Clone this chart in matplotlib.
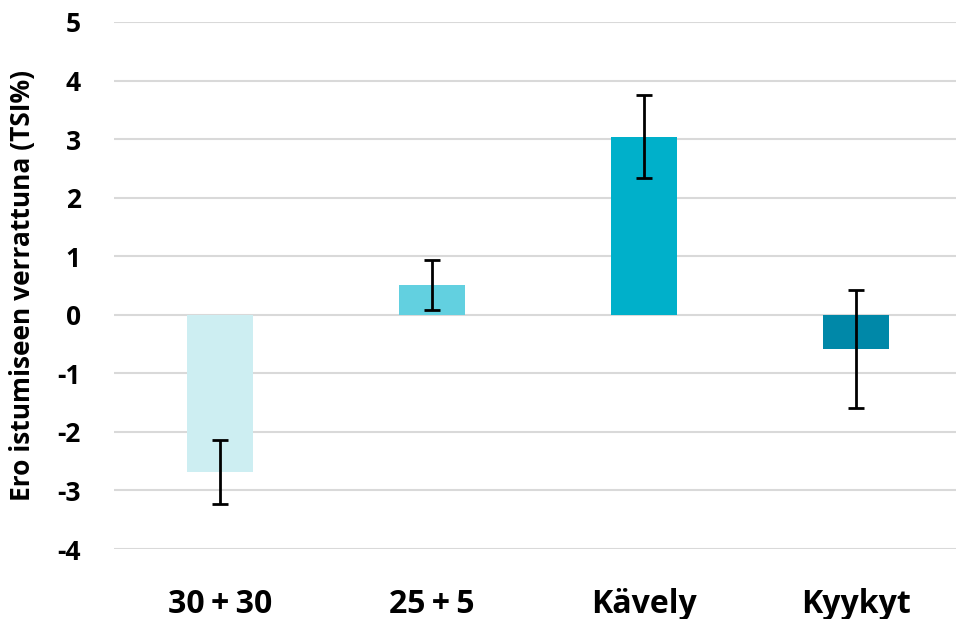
import matplotlib
matplotlib.use("Agg")
import matplotlib.pyplot as plt

# Veriler
kategoriler = ["30+30", "25+5", "Kävely", "Kyykyt"]
erot = [-2.68, 0.51, 3.04, -0.59]
virheet = [0.55, 0.43, 0.71, 1.01]
renkler = ["#cdeef2", "#62d0e0", "#00b0ca", "#0088a8"]

plt.rcParams["font.family"] = ["Open Sans", "DejaVu Sans"]
plt.rcParams["axes.unicode_minus"] = False

fig = plt.figure(figsize=(9.56, 6.19), dpi=100)
ax = fig.add_axes([114 / 956, 1 - 549 / 619, 848 / 956, 527 / 619])

x = range(len(kategoriler))
ax.bar(x, erot, width=0.31, color=renkler, zorder=2)
ax.errorbar(x, erot, yerr=virheet, fmt="none", ecolor="black",
            elinewidth=2, capsize=6, capthick=2, zorder=3)

ax.set_xlim(-0.5, 3.5)
ax.set_ylim(-4, 5)
ax.set_yticks(range(-4, 6))
ax.set_xticks(list(x))
# "+" merkin ympärille kapea väli kuten alkuperäisessä
ax.set_xticklabels([k.replace("+", "\u2009+\u2009") for k in kategoriler],
                   fontsize=23, fontweight="bold")
for t in ax.get_yticklabels():
    t.set_fontsize(19)
    t.set_fontweight("bold")

ax.grid(axis="y", color="#d9d9d9", linewidth=1.5, zorder=0)
ax.set_axisbelow(True)
for s in ax.spines.values():
    s.set_visible(False)
ax.tick_params(length=0)
ax.tick_params(axis="x", pad=28)
ax.tick_params(axis="y", pad=24)

ax.set_ylabel("Ero istumiseen verrattuna (TSI%)", fontsize=19,
              fontweight="bold")
ax.yaxis.set_label_coords(-0.092, 0.5)

fig.savefig("out.png", dpi=100)
